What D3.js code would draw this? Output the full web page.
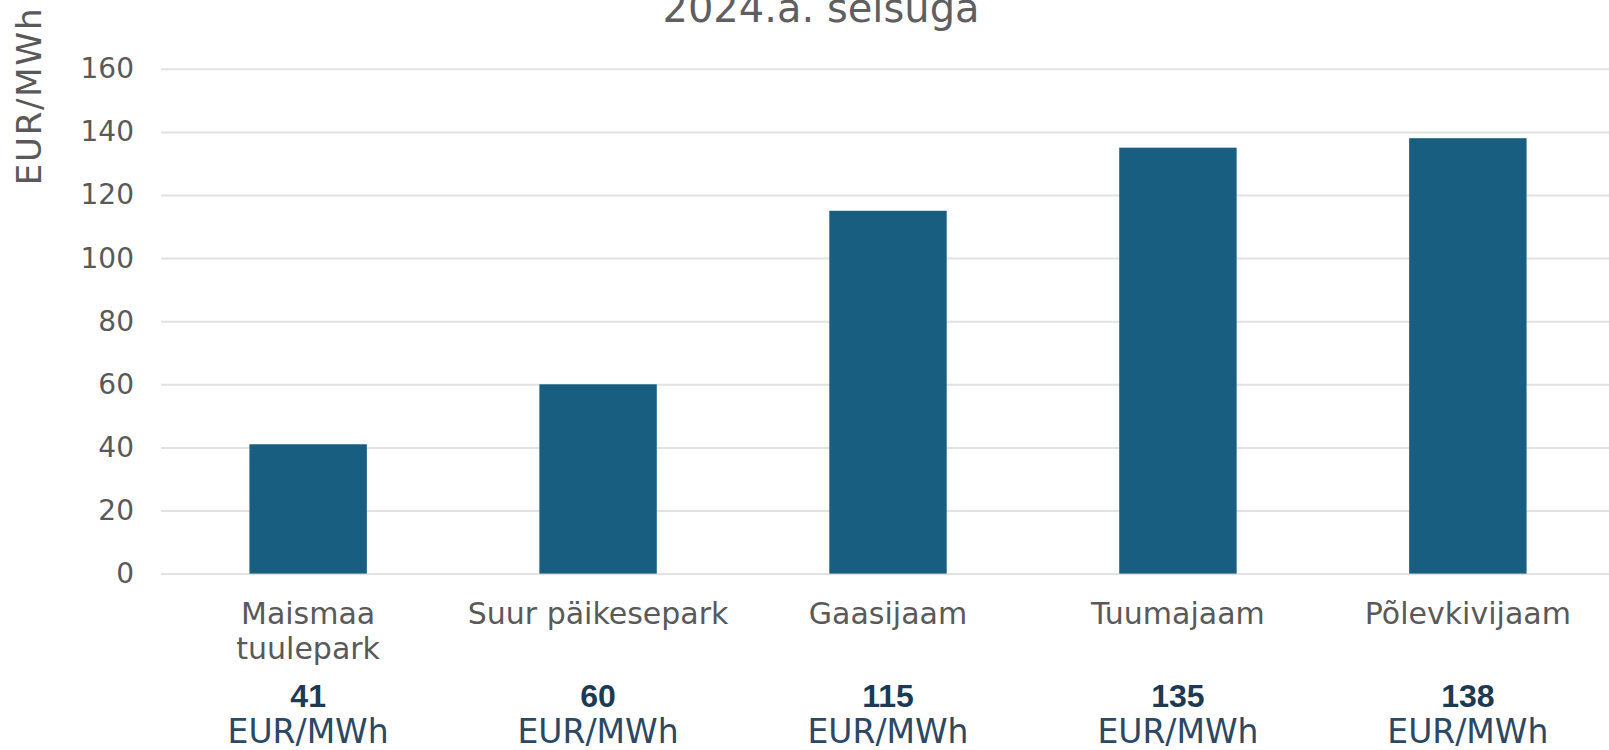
<!DOCTYPE html>
<html>
<head>
<meta charset="utf-8">
<script src="https://cdn.jsdelivr.net/npm/d3@7"></script>
<style>
  html, body { margin: 0; padding: 0; background: #ffffff; }
  svg { display: block; font-family: "DejaVu Sans", sans-serif; }
</style>
</head>
<body>
<svg id="chart" width="1609" height="750"></svg>
<script>
const categories = [["Maismaa", "tuulepark"], ["Suur päikesepark"], ["Gaasijaam"], ["Tuumajaam"], ["Põlevkivijaam"]];
const values = [41, 60, 115, 135, 138];
const valueLabels = ["41", "60", "115", "135", "138"];
const unitLabel = "EUR/MWh";
const yTicks = [0, 20, 40, 60, 80, 100, 120, 140, 160];
const titleText = "2024.a. seisuga";
const yAxisTitle = "EUR/MWh";

const svg = d3.select("#chart");
const plotLeft = 161, plotRight = 1615, plotTop = 68.8, plotBottom = 573.6;

const x = d3.scaleBand()
  .domain(d3.range(values.length))
  .range([plotLeft, plotRight])
  .paddingInner(0.595)
  .paddingOuter(0.305);

const y = d3.scaleLinear().domain([0, 160]).range([plotBottom, plotTop]);

// gridlines + tick labels
const yAxis = d3.axisLeft(y).tickValues(yTicks).tickSize(-(1609 - plotLeft)).tickPadding(27).tickFormat(d3.format("d"));
const gAxis = svg.append("g").attr("transform", `translate(${plotLeft},0)`).call(yAxis);
gAxis.select(".domain").remove();
gAxis.selectAll(".tick line").attr("stroke", "#e2e2e2").attr("stroke-width", 2);
gAxis.selectAll(".tick text")
  .attr("fill", "#595959")
  .attr("font-size", 28)
  .attr("font-family", "DejaVu Sans, sans-serif");

// bars
svg.append("g").selectAll("rect")
  .data(values)
  .join("rect")
  .attr("x", (d, i) => x(i))
  .attr("y", d => y(d))
  .attr("width", x.bandwidth())
  .attr("height", d => y(0) - y(d))
  .attr("fill", "#185e80");

// category labels
const catG = svg.append("g");
categories.forEach((lines, i) => {
  const cx = x(i) + x.bandwidth() / 2;
  const t = catG.append("text")
    .attr("x", cx)
    .attr("y", 613)
    .attr("text-anchor", "middle")
    .attr("dominant-baseline", "central")
    .attr("fill", "#595959")
    .attr("font-size", 30);
  lines.forEach((ln, j) => {
    t.append("tspan").attr("x", cx).attr("dy", j === 0 ? 0 : 35).text(ln);
  });
});

// value labels
const valG = svg.append("g");
values.forEach((v, i) => {
  const cx = x(i) + x.bandwidth() / 2;
  valG.append("text")
    .attr("x", cx).attr("y", 695.5)
    .attr("text-anchor", "middle")
    .attr("dominant-baseline", "central")
    .attr("fill", "#1d3a54")
    .style("font-family", "'Liberation Sans', Arial, sans-serif")
    .attr("font-size", 32)
    .attr("font-weight", "bold")
    .text(valueLabels[i]);
  valG.append("text")
    .attr("x", cx).attr("y", 731)
    .attr("text-anchor", "middle")
    .attr("dominant-baseline", "central")
    .attr("fill", "#2b4864")
    .attr("font-size", 33)
    .text(unitLabel);
});

// title
svg.append("text")
  .attr("x", 821).attr("y", 22)
  .attr("text-anchor", "middle")
  .attr("fill", "#5f5f5f")
  .attr("font-size", 40)
  .text(titleText);

// y axis title
svg.append("text")
  .attr("transform", `translate(41,96) rotate(-90)`)
  .attr("text-anchor", "middle")
  .attr("fill", "#595959")
  .attr("font-size", 34)
  .attr("letter-spacing", 1.8)
  .text(yAxisTitle);
</script>
</body>
</html>
